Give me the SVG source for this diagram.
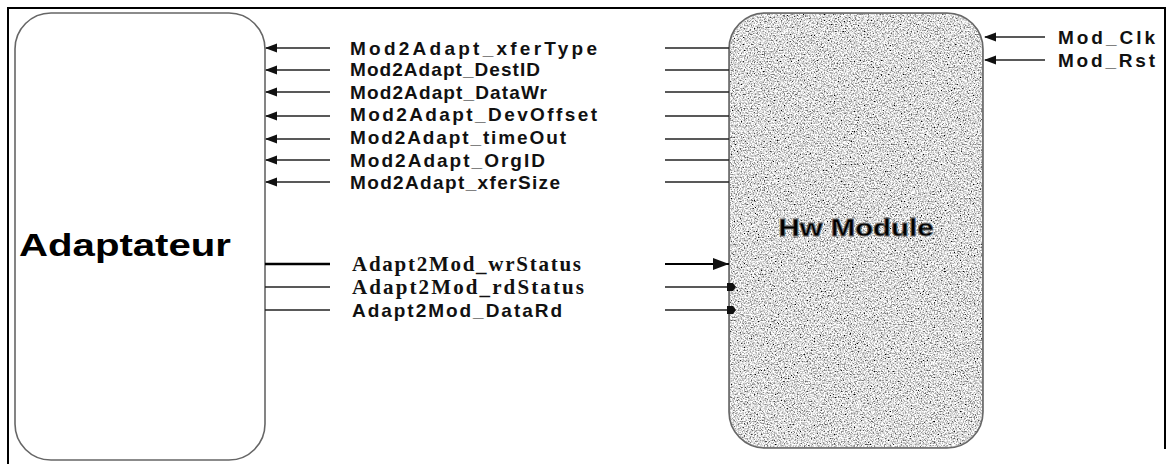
<svg xmlns="http://www.w3.org/2000/svg" width="1173" height="464" viewBox="0 0 1173 464">
<defs>
<style>
.lbl{font-family:"Liberation Sans",Arial,sans-serif;font-weight:bold;font-size:19px;fill:#111}
.lbls{font-family:"Liberation Serif","Times New Roman",serif;font-weight:bold;font-size:21px;fill:#111}
.wire{stroke:#222;stroke-width:1.6;fill:none}
.title{font-family:"Liberation Sans",Arial,sans-serif;font-weight:bold;fill:#000}
</style>
<marker id="ah" markerWidth="12" markerHeight="10" refX="11" refY="5" orient="auto" markerUnits="userSpaceOnUse">
<path d="M0,0.5 L12,5 L0,9.5 Z" fill="#111"/>
</marker>
<marker id="big" markerWidth="16" markerHeight="12" refX="16" refY="6" orient="auto" markerUnits="userSpaceOnUse">
<path d="M0,0 L16,6 L0,12 Z" fill="#111"/>
</marker>
<marker id="dot" markerWidth="9" markerHeight="9" refX="7" refY="4.5" orient="auto" markerUnits="userSpaceOnUse">
<path d="M0,0.5 L6,0.5 L9,4.5 L6,8.5 L0,8.5 Z" fill="#111"/>
</marker>
<filter id="grain" x="0%" y="0%" width="100%" height="100%">
<feTurbulence type="fractalNoise" baseFrequency="0.7" numOctaves="2" seed="7" result="t"/>
<feColorMatrix in="t" type="matrix" values="1 0 0 0 0  1 0 0 0 0  1 0 0 0 0  0 0 0 0 1" result="g"/>
<feComponentTransfer in="g" result="c">
<feFuncR type="linear" slope="2.4" intercept="-0.48"/>
<feFuncG type="linear" slope="2.4" intercept="-0.48"/>
<feFuncB type="linear" slope="2.4" intercept="-0.48"/>
</feComponentTransfer>
<feComposite in="c" in2="SourceGraphic" operator="in"/>
</filter>
</defs>
<rect width="1173" height="464" fill="#fff"/>
<path d="M8,464 V8 H1165 V449" fill="none" stroke="#000" stroke-width="2"/>

<g id="adaptateur">
<rect x="15" y="13" width="250" height="447" rx="36" ry="36" fill="#fff" stroke="#666" stroke-width="1.6"/>
<text class="title" x="125" y="256" font-size="32" text-anchor="middle" textLength="212" lengthAdjust="spacingAndGlyphs">Adaptateur</text>
</g>

<g id="hw-module">
<rect x="729" y="13" width="254" height="435" rx="36" ry="36" fill="#aaa" stroke="#666" stroke-width="1.6"/>
<rect x="730" y="14" width="252" height="433" rx="35" ry="35" fill="#888" filter="url(#grain)"/>
<text class="title" x="856" y="236" font-size="24" text-anchor="middle" textLength="155" lengthAdjust="spacingAndGlyphs" fill="#222" stroke="#666" stroke-width="0.8">Hw Module</text>
</g>

<g id="connectors">
<line class="wire" x1="330" y1="48" x2="266" y2="48" marker-end="url(#ah)"/>
<line class="wire" x1="330" y1="70" x2="266" y2="70" marker-end="url(#ah)"/>
<line class="wire" x1="330" y1="92" x2="266" y2="92" marker-end="url(#ah)"/>
<line class="wire" x1="330" y1="116" x2="266" y2="116" marker-end="url(#ah)"/>
<line class="wire" x1="330" y1="139" x2="266" y2="139" marker-end="url(#ah)"/>
<line class="wire" x1="330" y1="160" x2="266" y2="160" marker-end="url(#ah)"/>
<line class="wire" x1="330" y1="182" x2="266" y2="182" marker-end="url(#ah)"/>
<line class="wire" x1="665" y1="48" x2="729" y2="48"/>
<line class="wire" x1="665" y1="70" x2="729" y2="70"/>
<line class="wire" x1="665" y1="92" x2="729" y2="92"/>
<line class="wire" x1="665" y1="116" x2="729" y2="116"/>
<line class="wire" x1="665" y1="139" x2="729" y2="139"/>
<line class="wire" x1="665" y1="160" x2="729" y2="160"/>
<line class="wire" x1="665" y1="182" x2="729" y2="182"/>
<line x1="265" y1="264" x2="330" y2="264" stroke="#000" stroke-width="2.6"/>
<line class="wire" x1="265" y1="287" x2="330" y2="287"/>
<line class="wire" x1="265" y1="310" x2="330" y2="310"/>
<line x1="665" y1="264" x2="729" y2="264" stroke="#000" stroke-width="2.2" marker-end="url(#big)"/>
<line class="wire" x1="665" y1="287" x2="734" y2="287" marker-end="url(#dot)"/>
<line class="wire" x1="665" y1="310" x2="734" y2="310" marker-end="url(#dot)"/>
<line class="wire" x1="1045" y1="37" x2="985" y2="37" marker-end="url(#ah)"/>
<line class="wire" x1="1045" y1="60" x2="985" y2="60" marker-end="url(#ah)"/>
</g>

<g id="labels">
<text class="lbl" x="350" y="55" textLength="247" lengthAdjust="spacing">Mod2Adapt_xferType</text>
<text class="lbl" x="350" y="76" textLength="190" lengthAdjust="spacing">Mod2Adapt_DestID</text>
<text class="lbl" x="350" y="99" textLength="197" lengthAdjust="spacing">Mod2Adapt_DataWr</text>
<text class="lbl" x="350" y="121" textLength="247" lengthAdjust="spacing">Mod2Adapt_DevOffset</text>
<text class="lbl" x="350" y="144" textLength="216" lengthAdjust="spacing">Mod2Adapt_timeOut</text>
<text class="lbl" x="350" y="167" textLength="195" lengthAdjust="spacing">Mod2Adapt_OrgID</text>
<text class="lbl" x="350" y="189" textLength="210" lengthAdjust="spacing">Mod2Adapt_xferSize</text>
<text class="lbls" x="352" y="271" textLength="229" lengthAdjust="spacing">Adapt2Mod_wrStatus</text>
<text class="lbls" x="352" y="294" textLength="232" lengthAdjust="spacing">Adapt2Mod_rdStatus</text>
<text class="lbl" x="352" y="317" textLength="210" lengthAdjust="spacing">Adapt2Mod_DataRd</text>
<text class="lbl" x="1058" y="44" textLength="97" lengthAdjust="spacing">Mod_Clk</text>
<text class="lbl" x="1058" y="67" textLength="97" lengthAdjust="spacing">Mod_Rst</text>
</g>
</svg>
